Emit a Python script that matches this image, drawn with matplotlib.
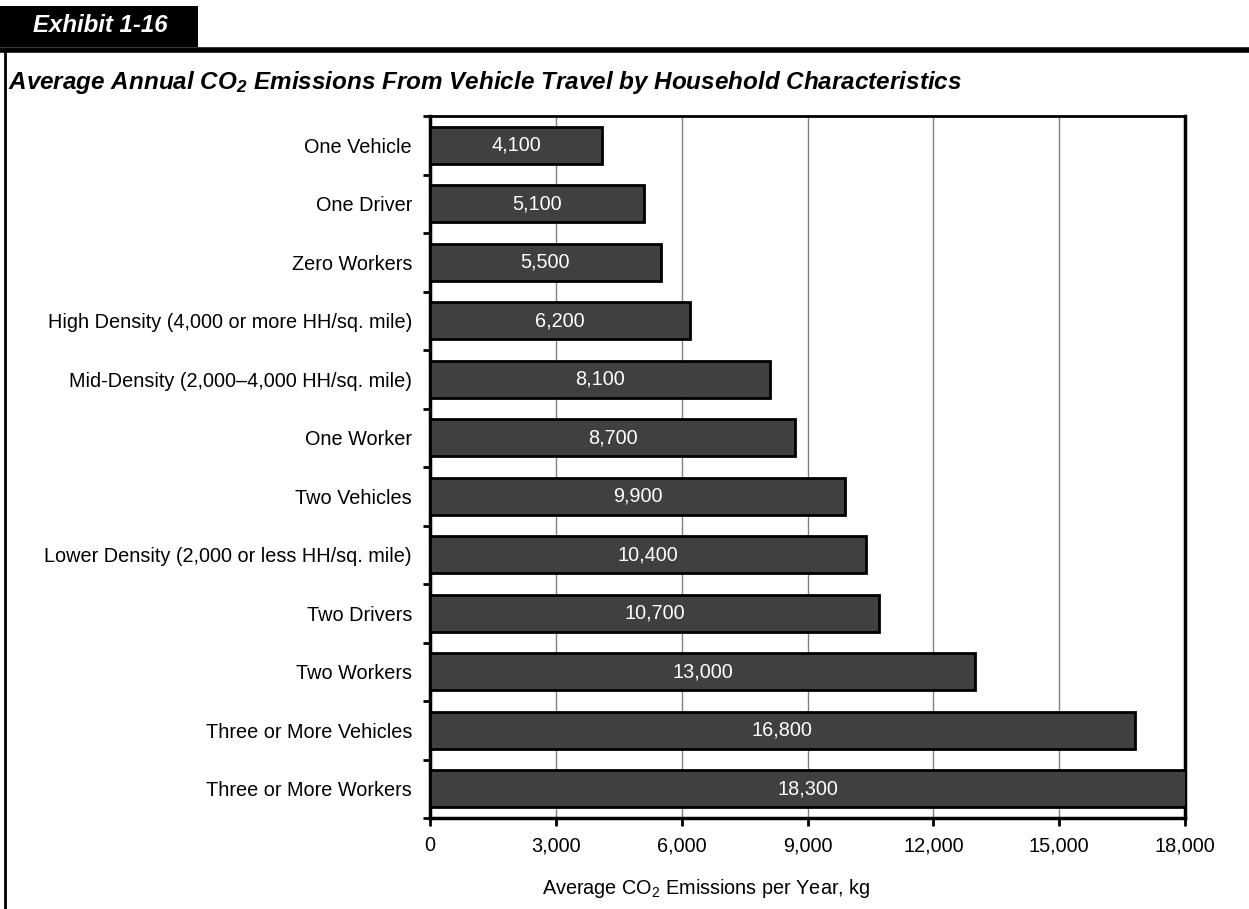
import matplotlib
matplotlib.use("Agg")
import matplotlib.pyplot as plt
from matplotlib.patches import Rectangle
from matplotlib.lines import Line2D
import numpy as np

plt.rcParams['font.family'] = ['Liberation Sans', 'DejaVu Sans']
plt.rcParams['mathtext.default'] = 'regular'

# household characteristics, top to bottom
categories = [
    "One Vehicle",
    "One Driver",
    "Zero Workers",
    "High Density (4,000 or more HH/sq. mile)",
    "Mid-Density (2,000\u20134,000 HH/sq. mile)",
    "One Worker",
    "Two Vehicles",
    "Lower Density (2,000 or less HH/sq. mile)",
    "Two Drivers",
    "Two Workers",
    "Three or More Vehicles",
    "Three or More Workers",
]
co2_kg = [4100, 5100, 5500, 6200, 8100, 8700, 9900, 10400, 10700, 13000, 16800, 18300]
xticks = [0, 3000, 6000, 9000, 12000, 15000, 18000]

FS = 14.3

fig = plt.figure(figsize=(12.49, 9.09), dpi=100)
ax = fig.add_axes([430 / 1249, 1 - 818 / 909, 755 / 1249, 702 / 909])

y = np.arange(len(categories))
ax.barh(y, co2_kg, height=0.63, color='#404040', edgecolor='black', linewidth=2, zorder=3)
ax.set_ylim(len(categories) - 0.5, -0.5)
ax.set_xlim(0, 18000)

for yi, v in zip(y, co2_kg):
    ax.text(min(v, 18000) / 2, yi, f"{v:,}", color='white', ha='center', va='center',
            fontsize=FS, zorder=4)

ax.set_yticks(y)
ax.set_yticklabels(categories, fontsize=FS)
ax.tick_params(axis='y', which='major', length=0, pad=13)
ax.set_yticks(np.arange(-0.5, len(categories), 1), minor=True)
ax.tick_params(axis='y', which='minor', length=5, width=2, direction='out')

ax.set_xticks(xticks)
ax.set_xticklabels([f"{t:,}" for t in xticks], fontsize=FS)
ax.tick_params(axis='x', length=6, width=2, direction='out', pad=7)
ax.xaxis.grid(True, color='#808080', linewidth=1, zorder=0)
ax.set_axisbelow(True)

for s in ['left', 'bottom', 'right']:
    ax.spines[s].set_linewidth(2.5)
ax.spines['top'].set_linewidth(2)

ax.set_xlabel("Average CO$_2$ Emissions per Year, kg", fontsize=FS)
ax.xaxis.set_label_coords(276 / 755, -(888 - 818) / 702)
ax.xaxis.label.set_va('center')

# header tab and frame lines
fig.patches.append(Rectangle((0, 1 - 47 / 909), 198 / 1249, 41 / 909, transform=fig.transFigure,
                             facecolor='black', edgecolor='none'))
fig.lines.append(Line2D([0, 1], [1 - 49.5 / 909] * 2, transform=fig.transFigure,
                        color='black', linewidth=4))
fig.lines.append(Line2D([5 / 1249] * 2, [0, 1 - 49 / 909], transform=fig.transFigure,
                        color='black', linewidth=2))
fig.text(33 / 1249, 1 - 25 / 909, "Exhibit 1-16", color='white', fontsize=17.3,
         fontweight='bold', fontstyle='italic', va='center', ha='left')
fig.text(8 / 1249, 1 - 83 / 909,
         "Average Annual CO$_\\mathregular{2}$ Emissions From Vehicle Travel by Household Characteristics",
         fontsize=17.5, fontweight='bold', fontstyle='italic', va='center', ha='left')

fig.savefig("out.png", dpi=100)
